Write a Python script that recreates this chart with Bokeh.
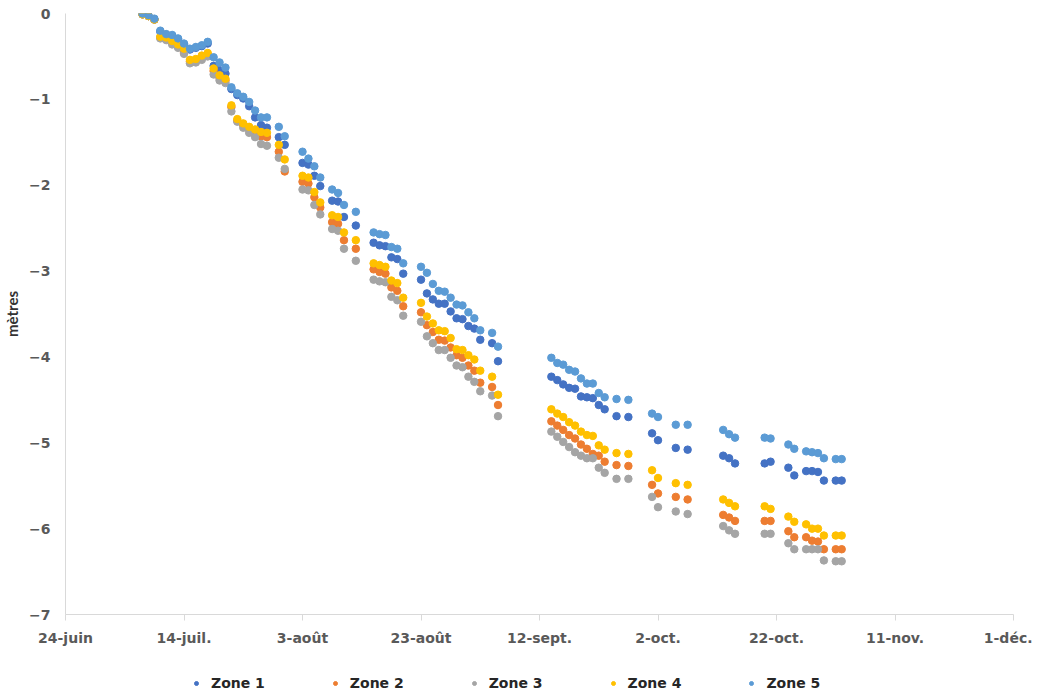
import pandas as pd
from bokeh.plotting import figure
from bokeh.layouts import column
from bokeh.models import Range1d, FixedTicker, Legend, LegendItem, ColumnDataSource
from bokeh.embed import file_html
from bokeh.resources import INLINE

dates = [
    "2021-07-07", "2021-07-08", "2021-07-09", "2021-07-10", "2021-07-11", "2021-07-12",
    "2021-07-13", "2021-07-14", "2021-07-15", "2021-07-16", "2021-07-17", "2021-07-18",
    "2021-07-19", "2021-07-20", "2021-07-21", "2021-07-22", "2021-07-23", "2021-07-24",
    "2021-07-25", "2021-07-26", "2021-07-27", "2021-07-28",
    "2021-07-30", "2021-07-31",
    "2021-08-03", "2021-08-04", "2021-08-05", "2021-08-06", "2021-08-08", "2021-08-09",
    "2021-08-10", "2021-08-12",
    "2021-08-15", "2021-08-16", "2021-08-17", "2021-08-18", "2021-08-19", "2021-08-20",
    "2021-08-23", "2021-08-24", "2021-08-25", "2021-08-26", "2021-08-27", "2021-08-28",
    "2021-08-29", "2021-08-30", "2021-08-31", "2021-09-01", "2021-09-02",
    "2021-09-04", "2021-09-05",
    "2021-09-14", "2021-09-15", "2021-09-16", "2021-09-17", "2021-09-18", "2021-09-19",
    "2021-09-20", "2021-09-21", "2021-09-22", "2021-09-23",
    "2021-09-25", "2021-09-27",
    "2021-10-01", "2021-10-02", "2021-10-05", "2021-10-07",
    "2021-10-13", "2021-10-14", "2021-10-15",
    "2021-10-20", "2021-10-21",
    "2021-10-24", "2021-10-25",
    "2021-10-27", "2021-10-28", "2021-10-29", "2021-10-30",
    "2021-11-01", "2021-11-02",
]

zone1 = [
    -0.01, -0.03, -0.07, -0.21, -0.25, -0.26, -0.30, -0.36, -0.42, -0.40, -0.38, -0.35,
    -0.61, -0.66, -0.70, -0.88, -0.95, -0.99, -1.08, -1.21, -1.30, -1.33,
    -1.44, -1.53,
    -1.74, -1.76, -1.89, -2.01, -2.18, -2.19, -2.37, -2.47,
    -2.67, -2.70, -2.71, -2.84, -2.86, -3.03,
    -3.10, -3.26, -3.33, -3.38, -3.38, -3.47, -3.55, -3.56, -3.64, -3.67, -3.80,
    -3.84, -4.05,
    -4.23, -4.27, -4.32, -4.36, -4.37, -4.46, -4.47, -4.48, -4.56, -4.61,
    -4.69, -4.70,
    -4.89, -4.97, -5.06, -5.08,
    -5.15, -5.18, -5.24,
    -5.24, -5.22,
    -5.29, -5.38,
    -5.33, -5.33, -5.34, -5.44,
    -5.44, -5.44,
]

zone2 = [
    -0.01, -0.03, -0.07, -0.28, -0.30, -0.34, -0.38, -0.45, -0.56, -0.55, -0.51, -0.48,
    -0.67, -0.75, -0.78, -1.09, -1.25, -1.30, -1.35, -1.39, -1.43, -1.44,
    -1.61, -1.84,
    -1.96, -1.98, -2.14, -2.26, -2.43, -2.45, -2.64, -2.74,
    -2.98, -3.01, -3.03, -3.19, -3.23, -3.41,
    -3.48, -3.63, -3.71, -3.80, -3.81, -3.89, -3.98, -4.01, -4.10, -4.16, -4.30,
    -4.35, -4.56,
    -4.75, -4.80, -4.85, -4.91, -4.95, -5.02, -5.07, -5.13, -5.15, -5.22,
    -5.26, -5.27,
    -5.49, -5.59, -5.63, -5.66,
    -5.84, -5.87, -5.91,
    -5.91, -5.91,
    -6.03, -6.10,
    -6.10, -6.14, -6.15, -6.24,
    -6.24, -6.24,
]

zone3 = [
    -0.01, -0.03, -0.07, -0.29, -0.31, -0.36, -0.40, -0.47, -0.58, -0.57, -0.54, -0.50,
    -0.71, -0.78, -0.81, -1.14, -1.26, -1.33, -1.39, -1.44, -1.52, -1.54,
    -1.68, -1.81,
    -2.05, -2.06, -2.23, -2.34, -2.51, -2.53, -2.74, -2.88,
    -3.10, -3.12, -3.13, -3.30, -3.34, -3.52,
    -3.59, -3.76, -3.84, -3.92, -3.92, -4.01, -4.10, -4.12, -4.23, -4.29, -4.40,
    -4.45, -4.69,
    -4.87, -4.93, -4.99, -5.05, -5.11, -5.15, -5.18, -5.18, -5.29, -5.35,
    -5.42, -5.42,
    -5.63, -5.75, -5.80, -5.83,
    -5.97, -6.02, -6.06,
    -6.06, -6.06,
    -6.17, -6.24,
    -6.24, -6.24, -6.24, -6.37,
    -6.38, -6.38,
]

zone4 = [
    -0.01, -0.03, -0.07, -0.27, -0.28, -0.32, -0.36, -0.41, -0.54, -0.53, -0.49, -0.46,
    -0.64, -0.72, -0.76, -1.07, -1.23, -1.28, -1.32, -1.35, -1.38, -1.39,
    -1.53, -1.70,
    -1.89, -1.91, -2.08, -2.20, -2.35, -2.37, -2.55, -2.64,
    -2.91, -2.93, -2.95, -3.11, -3.14, -3.31,
    -3.37, -3.53, -3.61, -3.69, -3.70, -3.78, -3.91, -3.92, -3.98, -4.03, -4.16,
    -4.23, -4.44,
    -4.61, -4.66, -4.70, -4.76, -4.80, -4.87, -4.91, -4.92, -5.03, -5.08,
    -5.12, -5.13,
    -5.32, -5.41, -5.47, -5.49,
    -5.66, -5.70, -5.74,
    -5.74, -5.77,
    -5.86, -5.92,
    -5.95, -6.00, -6.00, -6.08,
    -6.08, -6.08,
]

zone5 = [
    0.00, -0.02, -0.06, -0.20, -0.24, -0.25, -0.29, -0.35, -0.41, -0.39, -0.37, -0.33,
    -0.51, -0.57, -0.63, -0.86, -0.93, -0.97, -1.03, -1.13, -1.21, -1.21,
    -1.32, -1.43,
    -1.61, -1.69, -1.78, -1.91, -2.05, -2.09, -2.23, -2.31,
    -2.55, -2.57, -2.58, -2.72, -2.74, -2.91,
    -2.95, -3.02, -3.15, -3.23, -3.24, -3.31, -3.39, -3.40, -3.48, -3.55, -3.69,
    -3.72, -3.88,
    -4.01, -4.07, -4.09, -4.15, -4.17, -4.25, -4.31, -4.31, -4.42, -4.47,
    -4.49, -4.50,
    -4.66, -4.70, -4.79, -4.79,
    -4.85, -4.90, -4.94,
    -4.94, -4.95,
    -5.02, -5.07,
    -5.10, -5.11, -5.12, -5.18,
    -5.19, -5.19,
]

series_names = ["Zone 1", "Zone 2", "Zone 3", "Zone 4", "Zone 5"]
series_colors = ["#4472C4", "#ED7D31", "#A5A5A5", "#FFC000", "#5B9BD5"]

tick_dates = ["2021-06-24", "2021-07-14", "2021-08-03", "2021-08-23", "2021-09-12",
              "2021-10-02", "2021-10-22", "2021-11-11", "2021-12-01"]
tick_labels = ["24-juin", "14-juil.", "3-août", "23-août", "12-sept.",
               "2-oct.", "22-oct.", "11-nov.", "1-déc."]
y_ticks = [0, -1, -2, -3, -4, -5, -6, -7]
y_title = "mètres"

x = pd.to_datetime(dates)
epoch = pd.Timestamp("1970-01-01")
tick_ms = [float((pd.Timestamp(d) - epoch) / pd.Timedelta(milliseconds=1)) for d in tick_dates]

p = figure(width=1032, height=664, x_axis_type="datetime",
           output_backend="svg", toolbar_location=None,
           min_border_left=55, min_border_right=19, min_border_top=13, min_border_bottom=50)
p.x_range = Range1d(start=pd.Timestamp(tick_dates[0]), end=pd.Timestamp(tick_dates[-1]))
p.y_range = Range1d(start=-7, end=0)
p.outline_line_color = None
p.xgrid.visible = False
p.ygrid.visible = False
p.background_fill_color = "white"
p.border_fill_color = "white"

for name, vals, col in zip(series_names, [zone1, zone2, zone3, zone4, zone5], series_colors):
    src = ColumnDataSource(dict(x=x, y=vals))
    p.scatter("x", "y", source=src, size=7.5, fill_color=col, line_color=col)

xa = p.xaxis[0]
xa.ticker = FixedTicker(ticks=tick_ms)
xa.major_label_overrides = {t: lab for t, lab in zip(tick_ms, tick_labels)}
xa.axis_line_color = "#D9D9D9"
xa.major_tick_line_color = "#D9D9D9"
xa.major_tick_out = 6
xa.major_tick_in = 0
xa.minor_tick_line_color = None
xa.major_label_standoff = 9
xa.major_label_text_font = "DejaVu Sans"
xa.major_label_text_font_style = "bold"
xa.major_label_text_font_size = "14px"
xa.major_label_text_color = "#595959"

ya = p.yaxis[0]
ya.ticker = FixedTicker(ticks=y_ticks)
ya.axis_line_color = "#D9D9D9"
ya.major_tick_line_color = None
ya.major_tick_out = 0
ya.major_tick_in = 0
ya.minor_tick_line_color = None
ya.major_label_standoff = 15
ya.major_label_text_font = "DejaVu Sans"
ya.major_label_text_font_style = "bold"
ya.major_label_text_font_size = "14px"
ya.major_label_text_color = "#595959"
ya.axis_label = y_title
ya.axis_label_text_font = "Lato"
ya.axis_label_text_font_style = "bold"
ya.axis_label_text_font_size = "15px"
ya.axis_label_text_color = "#333333"
ya.axis_label_standoff = 5

# legend strip below the chart (dummy markers sit outside its visible range)
pl = figure(width=1032, height=27, output_backend="svg", toolbar_location=None,
            x_axis_location=None, y_axis_location=None,
            min_border_left=0, min_border_right=0, min_border_top=0, min_border_bottom=0,
            x_range=Range1d(0, 1), y_range=Range1d(0, 1))
pl.outline_line_color = None
pl.xgrid.visible = False
pl.ygrid.visible = False
items = []
for name, col in zip(series_names, series_colors):
    r = pl.scatter(x=[-5], y=[-5], size=7, fill_color=col, line_color=col)
    items.append(LegendItem(label=name, renderers=[r]))

legend = Legend(items=items, orientation="horizontal", location=(126, 0),
                glyph_width=10, glyph_height=12, label_standoff=10, spacing=65,
                padding=0, margin=0, border_line_color=None,
                background_fill_alpha=0,
                label_text_font="DejaVu Sans", label_text_font_style="bold",
                label_text_font_size="14px", label_text_color="#262626",
                label_height=16)
pl.add_layout(legend)

layout = column(p, pl, spacing=0)
open("out.html", "w").write(file_html(layout, INLINE))
